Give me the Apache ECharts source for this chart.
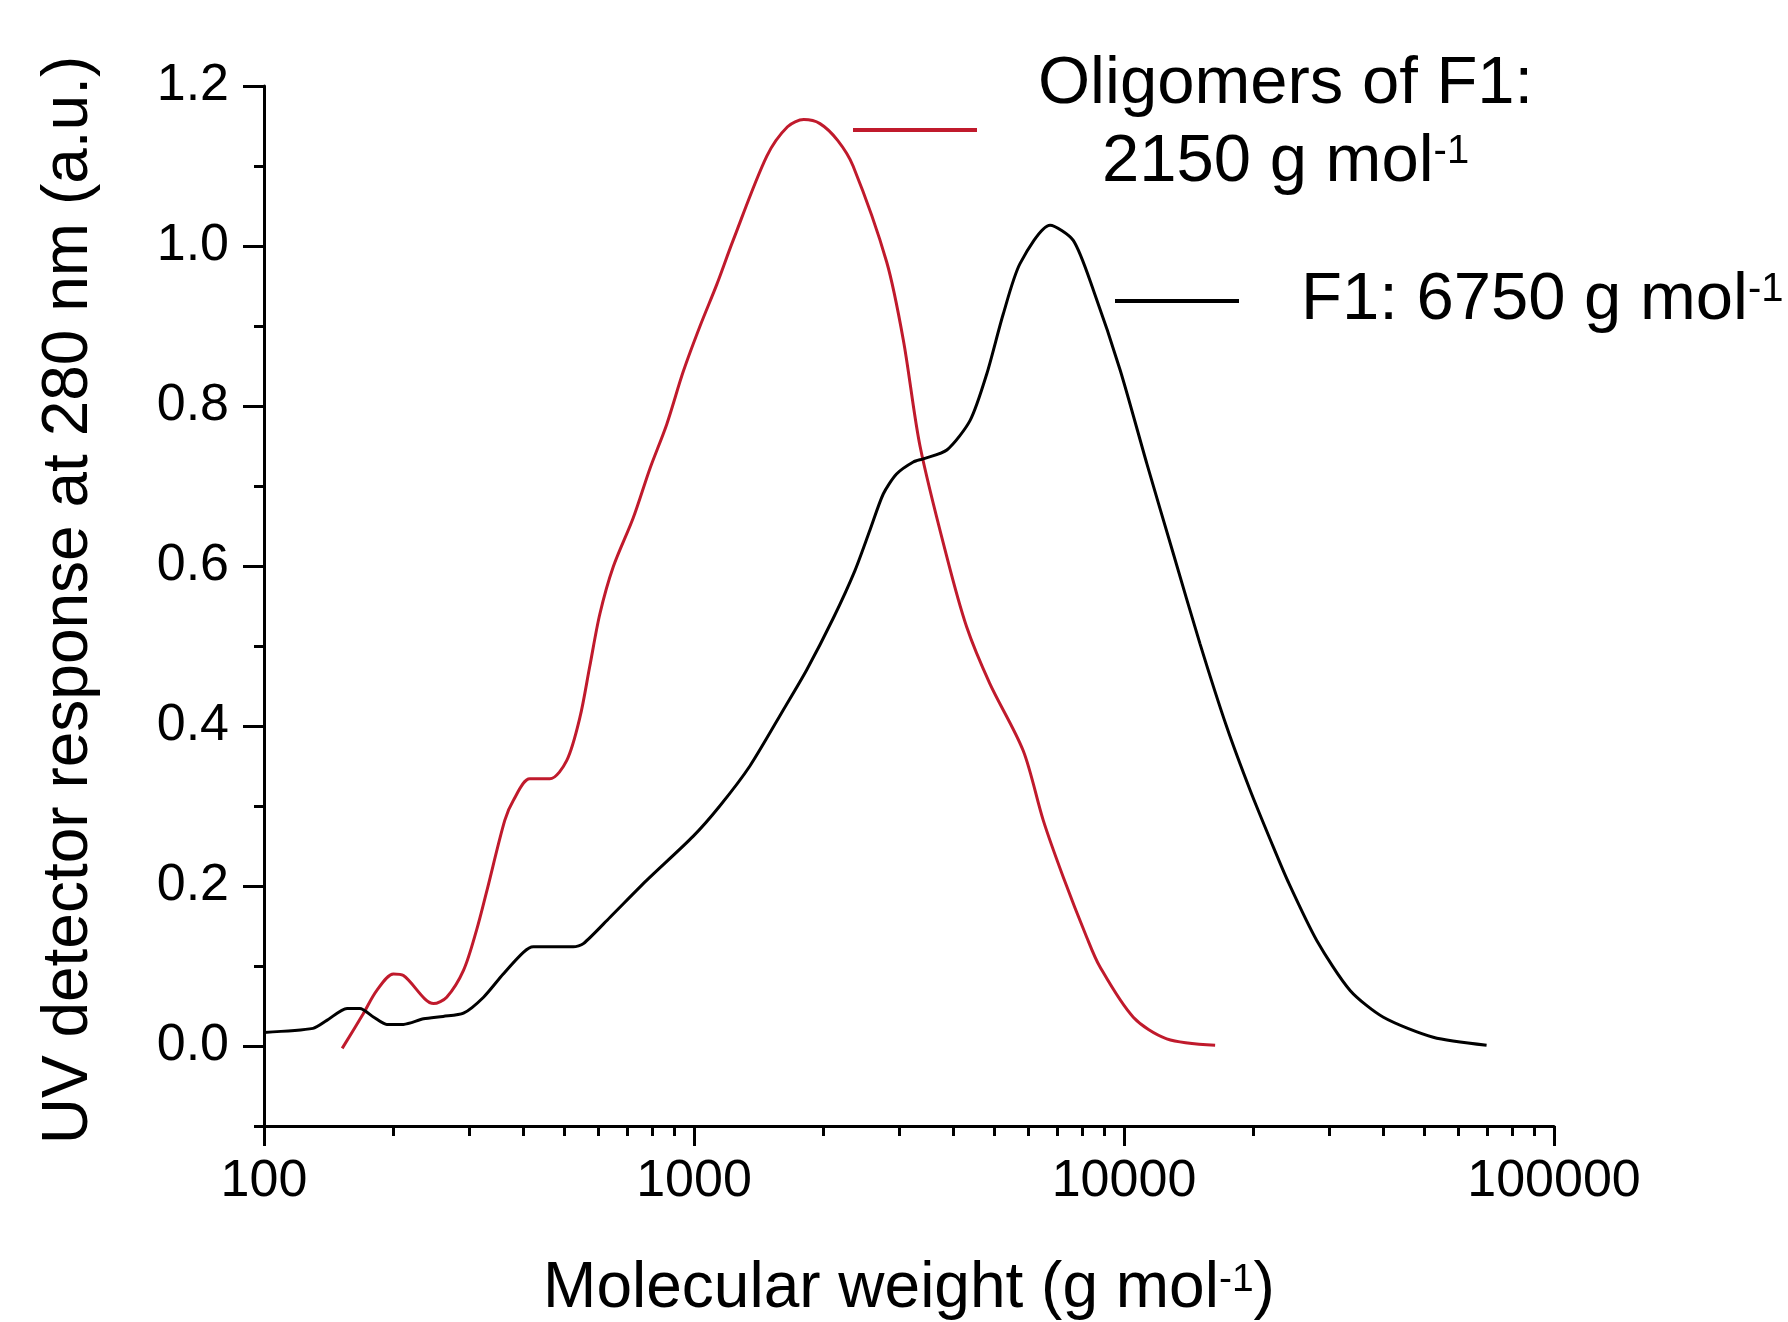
<!DOCTYPE html>
<html>
<head>
<meta charset="utf-8">
<title>UV response vs molecular weight</title>
<script src="https://cdn.jsdelivr.net/npm/echarts@6/dist/echarts.min.js"></script>
<style>
  html, body { margin: 0; padding: 0; background: #fff; }
  #chart { width: 1788px; height: 1322px; }
</style>
</head>
<body>
<div id="chart"></div>
<script>
// F1 (black curve)
const f1Mw = [100, 130, 140, 156, 167, 180, 193, 211, 235, 261, 291, 324, 360, 401, 423, 524, 553, 638, 776,
  995, 1148, 1349, 1613, 1828, 2109, 2366, 2566, 2755, 2958, 3236, 3412, 3873, 4387, 4795, 5238, 5730,
  6730, 7620, 8485, 9795, 11300, 13030, 15020, 17330, 19640, 22000, 24100, 28070, 33560, 40110, 52370, 69700];
const f1Uv = [0.017, 0.022, 0.032, 0.047, 0.047, 0.036, 0.027, 0.027, 0.034, 0.037, 0.041, 0.061, 0.090, 0.117, 0.124, 0.124, 0.128, 0.161, 0.207,
  0.262, 0.300, 0.350, 0.420, 0.470, 0.535, 0.594, 0.645, 0.690, 0.715, 0.730, 0.734, 0.745, 0.782, 0.840, 0.915, 0.978,
  1.026, 1.007, 0.945, 0.845, 0.728, 0.615, 0.503, 0.399, 0.320, 0.255, 0.205, 0.132, 0.0695, 0.036, 0.011, 0.001];

// oligomers of F1 (red curve)
const oligoMw = [152, 170, 183, 200, 211, 248, 266, 291, 312, 330, 363, 380, 415, 462, 506, 543, 572, 604, 649, 722, 790,
  864, 944, 1033, 1130, 1233, 1476, 1650, 1800, 1963, 2158, 2344, 2806, 3069, 3357, 3874, 4305, 4875, 5830, 6490, 7225, 8190, 8790,
  10510, 12570, 16290];
const oligoUv = [-0.003, 0.040, 0.0695, 0.090, 0.088, 0.053, 0.061, 0.0945, 0.1445, 0.1945, 0.282, 0.307, 0.334, 0.334, 0.357, 0.411, 0.474, 0.540, 0.599, 0.660, 0.722,
  0.777, 0.843, 0.900, 0.952, 1.007, 1.112, 1.149, 1.158, 1.153, 1.132, 1.100, 0.980, 0.882, 0.749, 0.611, 0.524, 0.453, 0.369, 0.282, 0.211, 0.136, 0.099,
  0.036, 0.009, 0.001];

const xMajorTicks = [100, 1000, 10000, 100000];
const xMinorTicks = [200, 300, 400, 500, 600, 700, 800, 900,
  2000, 3000, 4000, 5000, 6000, 7000, 8000, 9000,
  20000, 30000, 40000, 50000, 60000, 70000, 80000, 90000];
const yMajorTicks = [0, 0.2, 0.4, 0.6, 0.8, 1.0, 1.2];
const yMinorTicks = [-0.1, 0.1, 0.3, 0.5, 0.7, 0.9, 1.1];

const seriesNames = ['Oligomers of F1: 2150 g mol-1', 'F1: 6750 g mol-1'];

const font = "'Liberation Sans', Arial, sans-serif";
const red = '#c01a2c';
const axisLineStyle = { color: '#000', width: 3 };

function pairs(xs, ys) {
  return xs.map((x, i) => [x, ys[i]]);
}

// rich text pieces for the legend (superscript -1)
const legendRich = {
  gap: { width: 56, lineHeight: 78 },
  a: { fontSize: 67, lineHeight: 78, fontFamily: font, color: '#000', align: 'center' },
  s: { fontSize: 40, lineHeight: 40, fontFamily: font, color: '#000', align: 'center', verticalAlign: 'top', padding: [8, 0, 0, 0] }
};

const chart = echarts.init(document.getElementById('chart'));
chart.setOption({
  backgroundColor: '#fff',
  animation: false,
  grid: { left: 264, top: 86, width: 1290, height: 1040, outerBoundsMode: 'none' },
  legend: [
    {
      data: [seriesNames[0]],
      left: 853,
      top: 51,
      padding: 0,
      icon: 'rect',
      itemWidth: 124,
      itemHeight: 4,
      selectedMode: false,
      formatter: () => '{gap|}{a|Oligomers of F1:}\n{gap|}{a|2150 g mol}{s|-1}',
      textStyle: { padding: [0, 0, 13, 0], rich: legendRich }
    },
    {
      data: [seriesNames[1]],
      left: 1115,
      top: 262,
      padding: 0,
      icon: 'rect',
      itemWidth: 124,
      itemHeight: 4,
      selectedMode: false,
      formatter: () => '{gap|}{a|F1: 6750 g mol}{s|-1}',
      textStyle: { rich: Object.assign({}, legendRich, { gap: { width: 57, lineHeight: 78 } }) }
    }
  ],
  xAxis: [
    {
      type: 'log',
      logBase: 10,
      min: 100,
      max: 100000,
      position: 'bottom',
      name: '{t|Molecular weight (g mol}{s|-1}{t|)}',
      nameLocation: 'middle',
      nameGap: 127,
      nameTextStyle: {
        rich: {
          t: { fontSize: 64, lineHeight: 72, fontFamily: font, color: '#000' },
          s: { fontSize: 39, lineHeight: 39, fontFamily: font, color: '#000', verticalAlign: 'top', padding: [8, 0, 0, 0] }
        }
      },
      axisLine: { onZero: false, lineStyle: axisLineStyle },
      axisTick: { customValues: xMajorTicks, length: 20, lineStyle: axisLineStyle },
      axisLabel: {
        customValues: xMajorTicks,
        margin: 30,
        fontSize: 52,
        fontFamily: font,
        color: '#000',
        formatter: v => String(Math.round(v))
      },
      splitLine: { show: false },
      minorTick: { show: false }
    },
    {
      // minor ticks only
      type: 'log',
      logBase: 10,
      min: 100,
      max: 100000,
      position: 'bottom',
      axisLine: { show: false, onZero: false },
      axisTick: { customValues: xMinorTicks, length: 10, lineStyle: axisLineStyle },
      axisLabel: { show: false },
      splitLine: { show: false }
    }
  ],
  yAxis: [
    {
      type: 'value',
      min: -0.1,
      max: 1.2,
      position: 'left',
      name: 'UV detector response at 280 nm (a.u.)',
      nameLocation: 'middle',
      nameGap: 163,
      nameTextStyle: { fontSize: 64, fontFamily: font, color: '#000', padding: [0, 0, 0, 12] },
      axisLine: { show: true, onZero: false, lineStyle: axisLineStyle },
      axisTick: { show: true, customValues: yMajorTicks, length: 21, lineStyle: axisLineStyle },
      axisLabel: {
        customValues: yMajorTicks,
        margin: 35,
        fontSize: 52,
        fontFamily: font,
        color: '#000',
        formatter: v => v.toFixed(1)
      },
      splitLine: { show: false }
    },
    {
      // minor ticks only
      type: 'value',
      min: -0.1,
      max: 1.2,
      position: 'left',
      axisLine: { show: false, onZero: false },
      axisTick: { show: true, customValues: yMinorTicks, length: 10, lineStyle: axisLineStyle },
      axisLabel: { show: false },
      splitLine: { show: false }
    }
  ],
  series: [
    {
      name: seriesNames[0],
      type: 'line',
      data: pairs(oligoMw, oligoUv),
      symbol: 'none',
      smooth: 0.3,
      lineStyle: { color: red, width: 3 },
      itemStyle: { color: red }
    },
    {
      name: seriesNames[1],
      type: 'line',
      data: pairs(f1Mw, f1Uv),
      symbol: 'none',
      smooth: 0.25,
      lineStyle: { color: '#000', width: 3 },
      itemStyle: { color: '#000' }
    }
  ]
});
</script>
</body>
</html>
